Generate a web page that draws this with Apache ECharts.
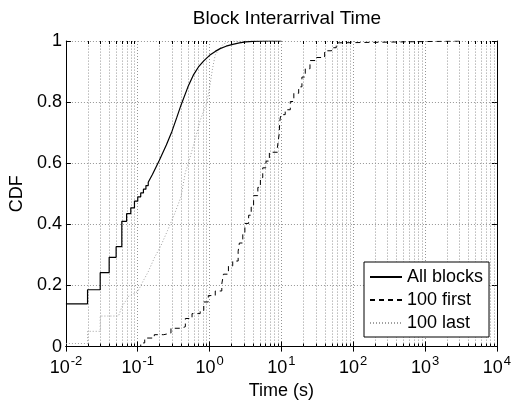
<!DOCTYPE html>
<html><head><meta charset="utf-8">
<script src="https://cdn.jsdelivr.net/npm/echarts@6/dist/echarts.min.js"></script>
<style>html,body{margin:0;padding:0;background:#fff}#c{width:514px;height:405px}</style>
</head><body><div id="c"></div>
<script>
// ---- data (time in seconds, CDF) ----
const allBlocks = [
  [0.01,0.14],[0.02,0.14],[0.02,0.186],[0.03,0.186],[0.03,0.242],[0.04,0.242],
  [0.04,0.292],[0.05,0.292],[0.05,0.327],[0.06,0.327],[0.06,0.41],[0.07,0.41],
  [0.07,0.435],[0.08,0.435],[0.08,0.454],[0.09,0.454],[0.09,0.476],[0.1,0.476],
  [0.1,0.49],[0.11,0.49],[0.11,0.503],[0.12,0.503],[0.12,0.515],[0.13,0.515],
  [0.13,0.527],[0.14,0.527],[0.14,0.538],[0.16,0.563],[0.18,0.588],[0.2,0.61],
  [0.25,0.66],[0.3,0.705],[0.35,0.75],[0.4,0.79],[0.5,0.85],[0.6,0.89],[0.7,0.915],
  [0.83,0.935],[1.0,0.953],[1.2,0.966],[1.4,0.975],[1.7,0.983],[2.1,0.989],
  [2.6,0.994],[3.2,0.997],[4,0.999],[6,1.0],[10,1.0]
];
const first100 = [
  [0.1,0.0],[0.11,0.012],[0.125,0.028],[0.17,0.039],[0.23,0.044],[0.29,0.06],
  [0.4,0.065],[0.46,0.092],[0.57,0.108],[0.74,0.118],[0.83,0.146],[0.96,0.167],
  [1.2,0.182],[1.48,0.205],[1.56,0.237],[1.83,0.264],[2.1,0.28],[2.5,0.312],
  [2.6,0.339],[2.9,0.371],[3.1,0.403],[3.5,0.43],[3.8,0.457],[4.1,0.494],
  [4.7,0.521],[5.1,0.553],[5.5,0.585],[6.1,0.607],[6.8,0.636],[8.8,0.652],
  [9.3,0.695],[9.5,0.737],[9.8,0.759],[11.3,0.775],[13.3,0.802],[14.9,0.829],
  [17.4,0.85],[19.3,0.882],[21.5,0.909],[25,0.936],[31,0.946],[40,0.968],
  [50,0.978],[58,0.994],[65,1.0],[3300,1.0]
];
const last100 = [
  [0.01,0.01],[0.02,0.01],[0.02,0.05],[0.03,0.05],[0.03,0.10],[0.054,0.10],
  [0.06,0.13],[0.075,0.165],[0.1,0.18],[0.113,0.205],[0.14,0.245],[0.17,0.29],
  [0.21,0.33],[0.26,0.38],[0.32,0.43],[0.4,0.49],[0.46,0.57],[0.52,0.61],
  [0.6,0.66],[0.74,0.74],[0.92,0.80],[1.02,0.86],[1.1,0.91],[1.2,0.955],
  [1.55,0.99],[2,1.0],[8,1.0]
];
const seriesNames = ['All blocks','100 first','100 last'];
const xTickExponents = ['-2','-1','0','1','2','3','4'];
const yTickLabels = ['0','0.2','0.4','0.6','0.8','1'];
const minorMantissas = [2,3,4,5,6,7,8,9];
const decades = [0.01,0.1,1,10,100,1000];

const minorTicks = [];
decades.forEach(d => minorMantissas.forEach(m => minorTicks.push([+(m*d).toPrecision(3), 0])));

const FONT = '"Liberation Sans", Arial, Helvetica, sans-serif';
const gridColor = '#959595';

const chart = echarts.init(document.getElementById('c'), null, {renderer:'canvas'});
const option = {
  animation:false,
  backgroundColor:'#fff',
  title:{
    text:'Block Interarrival Time', left:282, top:4, textAlign:'center',
    textStyle:{fontFamily:FONT, fontSize:19, fontWeight:'normal', color:'#000'}
  },
  grid:{left:63, right:12, top:41, bottom:53, containLabel:false},
  legend:{
    data:seriesNames, orient:'vertical', left:364, top:262,
    backgroundColor:'#fff', borderColor:'#000', borderWidth:1,
    padding:[5,6,4,5], itemGap:3, itemWidth:32, itemHeight:12,
    itemStyle:{opacity:0},
    textStyle:{fontFamily:FONT, fontSize:18, color:'#000', lineHeight:20}
  },
  xAxis:[{
    type:'log', logBase:10, min:0.01, max:10000,
    name:'Time (s)', nameLocation:'middle', nameGap:30,
    nameTextStyle:{fontFamily:FONT, fontSize:18, color:'#000'},
    axisLine:{lineStyle:{color:'#000', width:1}},
    axisTick:{inside:true, length:5, lineStyle:{color:'#000'}},
    axisLabel:{
      margin:8, color:'#000',
      formatter:(v)=>{
        const e = Math.round(Math.log10(v));
        const lab = xTickExponents.find(s => +s === e);
        return '{b|10}{s|' + (lab===undefined? e : lab) + '}';
      },
      rich:{
        b:{fontFamily:FONT, fontSize:18, color:'#000'},
        s:{fontFamily:FONT, fontSize:13, color:'#000', padding:[0,0,14,1]}
      }
    },
    splitLine:{show:true, lineStyle:{color:gridColor, type:[1,2], width:1}}
  },{
    type:'log', logBase:10, min:0.01, max:10000, position:'top',
    axisLine:{lineStyle:{color:'#000', width:1}},
    axisTick:{inside:true, length:5, lineStyle:{color:'#000'}},
    axisLabel:{show:false}, splitLine:{show:false}
  }],
  yAxis:[{
    type:'value', min:0, max:1, interval:0.2,
    name:'CDF', nameLocation:'middle', nameGap:34,
    nameTextStyle:{fontFamily:FONT, fontSize:18, color:'#000'},
    axisLine:{show:true, lineStyle:{color:'#000', width:1}},
    axisTick:{show:true, inside:true, length:5, lineStyle:{color:'#000'}},
    axisLabel:{
      margin:4, color:'#000', fontFamily:FONT, fontSize:18,
      formatter:(v)=> yTickLabels[Math.round(v/0.2)]
    },
    splitLine:{show:true, lineStyle:{color:gridColor, type:[1,2], width:1}}
  },{
    type:'value', min:0, max:1, interval:0.2, position:'right',
    axisLine:{show:true, lineStyle:{color:'#000', width:1}},
    axisTick:{show:true, inside:true, length:5, lineStyle:{color:'#000'}},
    axisLabel:{show:false}, splitLine:{show:false}
  }],
  series:[
    {
      type:'custom', name:'minor', silent:true, z:1,
      xAxisIndex:0, yAxisIndex:0,
      data:minorTicks, encode:{x:0, y:1},
      renderItem:(params, api)=>{
        const v = api.value(0);
        const p0 = api.coord([v,0]);
        const p1 = api.coord([v,1]);
        const x = Math.round(p0[0]) + 0.5;
        return {type:'group', children:[
          {type:'line', shape:{x1:x, y1:p0[1], x2:x, y2:p1[1]},
           style:{stroke:gridColor, lineWidth:1, lineDash:[1,2]}},
          {type:'line', shape:{x1:x, y1:p0[1], x2:x, y2:p0[1]-3},
           style:{stroke:'#000', lineWidth:1}},
          {type:'line', shape:{x1:x, y1:p1[1], x2:x, y2:p1[1]+3},
           style:{stroke:'#000', lineWidth:1}}
        ]};
      }
    },
    {
      name:seriesNames[2], type:'line', data:last100, showSymbol:false, symbol:'none', z:3,
      lineStyle:{color:'#a0a0a0', width:1, type:[1,2]}, itemStyle:{color:'#a0a0a0'}
    },
    {
      name:seriesNames[1], type:'line', data:first100, step:'end', showSymbol:false, symbol:'none', z:4,
      lineStyle:{color:'#000', width:1, type:[5,4]}, itemStyle:{color:'#000'}
    },
    {
      name:seriesNames[0], type:'line', data:allBlocks, showSymbol:false, symbol:'none', z:5,
      lineStyle:{color:'#000', width:1.2, type:'solid'}, itemStyle:{color:'#000'}
    }
  ]
};
chart.setOption(option);
</script>
</body></html>
